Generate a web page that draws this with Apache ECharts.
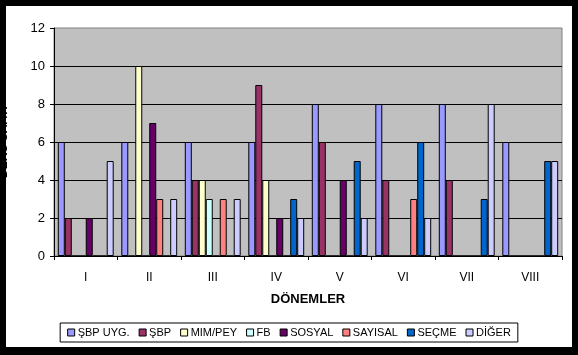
<!DOCTYPE html>
<html>
<head>
<meta charset="utf-8">
<script src="https://cdn.jsdelivr.net/npm/echarts@6/dist/echarts.min.js"></script>
<style>
html,body{margin:0;padding:0;background:#000;width:578px;height:355px;overflow:hidden;}
#frame{position:absolute;left:6px;top:6px;width:566px;height:341px;background:#fff;}
#chart{position:absolute;left:0;top:0;width:578px;height:355px;}
</style>
</head>
<body>
<div id="frame"></div>
<div id="chart"></div>
<script>
const categories = ['I','II','III','IV','V','VI','VII','VIII'];
const seriesNames = ['ŞBP UYG.','ŞBP','MIM/PEY','FB','SOSYAL','SAYISAL','SEÇME','DİĞER'];
const sbpUyg  = [6, 6, 6, 6, 8, 8, 8, 6];
const sbp     = [2, 0, 4, 9, 6, 4, 4, 0];
const mimPey  = [0, 10, 4, 4, 0, 0, 0, 0];
const fb      = [0, 0, 3, 0, 0, 0, 0, 0];
const sosyal  = [2, 7, 0, 2, 4, 0, 0, 0];
const sayisal = [0, 3, 3, 0, 0, 3, 0, 0];
const secme   = [0, 0, 0, 3, 5, 6, 3, 5];
const diger   = [5, 3, 3, 2, 2, 2, 8, 5];
const yTicks = [0, 2, 4, 6, 8, 10, 12];
const colors = ['#9999FF','#993366','#FFFFCC','#CCFFFF','#660066','#FF8080','#0066CC','#CCCCFF'];
const allData = [sbpUyg, sbp, mimPey, fb, sosyal, sayisal, secme, diger];

const chart = echarts.init(document.getElementById('chart'), null, {renderer:'canvas'});
const font = 'Liberation Sans, Arial, sans-serif';
chart.setOption({
  backgroundColor: 'transparent',
  animation: false,
  textStyle: {fontFamily: font},
  grid: {left: 54, top: 28, right: 16, bottom: 99, containLabel: false, outerBoundsMode: 'none',
         show: true, backgroundColor: '#C0C0C0', borderColor: '#808080', borderWidth: 1},
  legend: {
    data: seriesNames,
    bottom: 13, left: 'center',
    icon: 'rect', itemWidth: 7, itemHeight: 7, itemGap: 9,
    backgroundColor: '#fff', borderColor: '#000', borderWidth: 1,
    padding: [4, 7, 4, 7],
    textStyle: {fontFamily: font, fontSize: 11, color: '#000', padding: [0,0,0,-2]},
    itemStyle: {borderColor: '#000', borderWidth: 1}
  },
  xAxis: {
    type: 'category', data: categories,
    name: 'DÖNEMLER', nameLocation: 'middle', nameGap: 37,
    nameTextStyle: {fontFamily: font, fontSize: 13, fontWeight: 'bold', color: '#000'},
    axisLine: {lineStyle: {color: '#000', width: 1}},
    axisTick: {show: true, length: 4, lineStyle: {color: '#000'}},
    axisLabel: {fontFamily: font, fontSize: 12, color: '#000', margin: 16}
  },
  yAxis: {
    type: 'value', min: yTicks[0], max: yTicks[yTicks.length-1], interval: 2,
    name: 'DERS SAATİ', nameLocation: 'middle', nameGap: 44, nameRotate: 90,
    nameTextStyle: {fontFamily: font, fontSize: 12, fontWeight: 'bold', color: '#000'},
    axisLine: {show: true, lineStyle: {color: '#000', width: 1}},
    axisTick: {show: true, length: 4, lineStyle: {color: '#000'}},
    axisLabel: {fontFamily: font, fontSize: 13, color: '#000', margin: 9},
    splitLine: {show: true, showMaxLine: false, lineStyle: {color: '#000', width: 1}}
  },
  series: seriesNames.map((n, i) => ({
    name: n, type: 'bar', data: allData[i],
    barGap: '0%', barCategoryGap: '12%',
    itemStyle: {color: colors[i], borderColor: '#000', borderWidth: 1}
  }))
});
</script>
</body>
</html>
